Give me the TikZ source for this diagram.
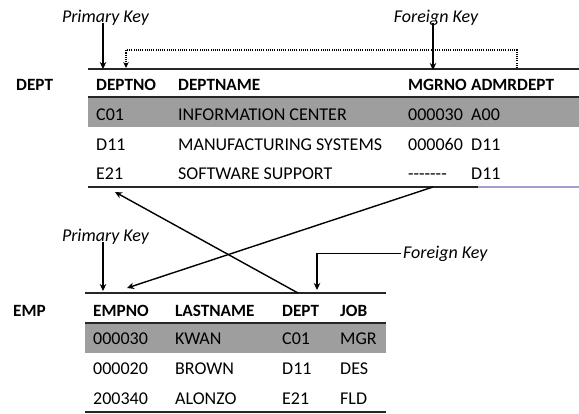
\documentclass[tikz,border=0pt]{standalone}
\usepackage{fontspec}
\setmainfont{Carlito}
\usetikzlibrary{calc,arrows.meta}

\begin{document}
\begin{tikzpicture}[x=1pt,y=-1pt,
    every node/.style={font=\fontsize{18}{21}\selectfont, inner sep=0pt, anchor=base west},
    hd/.style={font=\fontsize{17.2}{21}\selectfont\bfseries},
    keylbl/.style={font=\fontsize{18}{21}\selectfont\itshape},
    keyarrow/.style={line width=1.4pt, -{Stealth[length=7pt,width=6.5pt]}},
    fkdots/.style={line width=1.8pt, dash pattern=on 1.1pt off 1.1pt, -{Stealth[length=6pt,width=5.5pt]}},
    rule/.style={line width=1.1pt, black!85}]
    \useasboundingbox (0,0) rectangle (579,413);
    % DEPT table
    \fill[black!38] (88,97) rectangle (579,127);
    \draw[rule] (88,69) -- (579,69); \draw[rule] (88,97) -- (579,97);
    \draw[rule] (88,187) -- (478,187); \draw[line width=1.1pt, blue!35!gray!55] (478,187) -- (579,187);
    \node[hd] (dlbl) at (16,90) {DEPT};
    \node[hd] (dno) at (96,90) {DEPTNO}; \node[hd] (dname) at (178,90) {DEPTNAME};
    \node[hd] (dmgr) at (408,90) {MGRNO}; \node[hd] (dadm) at (471,90) {ADMRDEPT};
    \node (d1no) at (96,120) {C01}; \node (d1name) at (178,120) {INFORMATION CENTER};
    \node (d1mgr) at (408,120) {000030}; \node (d1adm) at (471,120) {A00};
    \node (d2no) at (96,150) {D11}; \node (d2name) at (178,150) {MANUFACTURING SYSTEMS};
    \node (d2mgr) at (408,150) {000060}; \node (d2adm) at (471,150) {D11};
    \node (d3no) at (96,179) {E21}; \node (d3name) at (178,179) {SOFTWARE SUPPORT};
    \node (d3mgr) at (408,179) {-{}-{}-{}-{}-{}-{}-}; \node (d3adm) at (471,179) {D11};
    % EMP table
    \fill[black!38] (85,323) rectangle (386,353);
    \draw[rule] (85,293) -- (386,293); \draw[rule] (85,323) -- (386,323);
    \draw[rule] (85,412) -- (386,412);
    \node[hd] (elbl) at (13,316) {EMP};
    \node[hd] (eno) at (93,316) {EMPNO}; \node[hd] (ename) at (175,316) {LASTNAME};
    \node[hd] (edept) at (282,316) {DEPT}; \node[hd] (ejob) at (340,316) {JOB};
    \node (e1no) at (93,344) {000030}; \node (e1name) at (175,344) {KWAN};
    \node (e1dept) at (282,344) {C01}; \node (e1job) at (340,344) {MGR};
    \node (e2no) at (93,374) {000020}; \node (e2name) at (175,374) {BROWN};
    \node (e2dept) at (282,374) {D11}; \node (e2job) at (340,374) {DES};
    \node (e3no) at (93,404) {200340}; \node (e3name) at (175,404) {ALONZO};
    \node (e3dept) at (282,404) {E21}; \node (e3job) at (340,404) {FLD};
    % key labels
    \node[keylbl, anchor=base] (pkdept) at (105.5,22) {Primary Key};
    \node[keylbl, anchor=base] (fkdept) at (436,22) {Foreign Key};
    \node[keylbl, anchor=base] (pkemp) at (105.5,241) {Primary Key};
    \node[keylbl] (fkemp) at (403,258) {Foreign Key};
    % connector ends
    \coordinate (dnoTop) at (103,69); \coordinate (dnoRef) at (126,68);
    \coordinate (dmgrTop) at (433,70); \coordinate (dadmTop) at (517,68);
    \coordinate (dnoBot) at (115,192); \coordinate (dmgrBot) at (433,187);
    \coordinate (enoTop) at (103,291); \coordinate (enoRef) at (127,288);
    \coordinate (edeptTop) at (298,293); \coordinate (edeptRef) at (317,290);
    % arrows
    \draw[keyarrow] ([yshift=2pt]pkdept.south -| dnoTop) -- (dnoTop);
    \draw[keyarrow] ([yshift=2pt]fkdept.south -| dmgrTop) -- (dmgrTop);
    \draw[fkdots] (dadmTop) -- ++(0,-18) -| (dnoRef);
    \draw[keyarrow] ([yshift=2pt]pkemp.south -| enoTop) -- (enoTop);
    \draw[keyarrow] ([xshift=-2pt]fkemp.west) -| (edeptRef);
    \draw[keyarrow] (edeptTop) -- (dnoBot);
    \draw[keyarrow] (dmgrBot) -- (enoRef);
\end{tikzpicture}
\end{document}
